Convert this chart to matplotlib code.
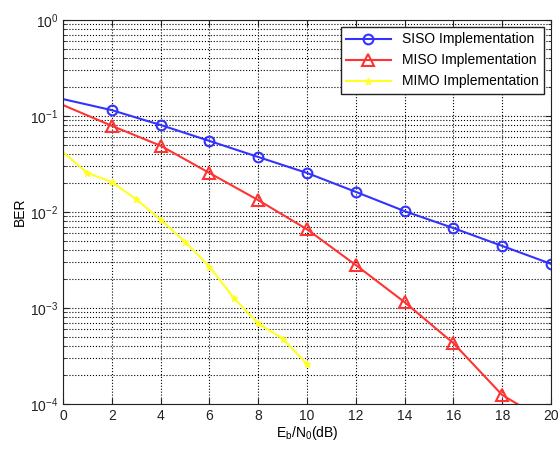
import matplotlib
matplotlib.use("Agg")
import matplotlib.pyplot as plt
from matplotlib.ticker import LogLocator, NullFormatter

plt.rcParams['font.family'] = ['Liberation Sans', 'DejaVu Sans']

snr_siso = [0, 2, 4, 6, 8, 10, 12, 14, 16, 18, 20]
ber_siso = [0.150, 0.115, 0.0806, 0.055, 0.0374, 0.0255, 0.0162, 0.0102, 0.0068, 0.00443, 0.00288]

snr_miso = [0, 2, 4, 6, 8, 10, 12, 14, 16, 18, 20]
ber_miso = [0.130, 0.079, 0.049, 0.0255, 0.0133, 0.0066, 0.0028, 0.00115, 0.00043, 0.000124, 0.000062]

snr_mimo = [0, 1, 2, 3, 4, 5, 6, 7, 8, 9, 10]
ber_mimo = [0.042, 0.0255, 0.0205, 0.0136, 0.0083, 0.0049, 0.0027, 0.00127, 0.00069, 0.00048, 0.00026]

xticks = [0, 2, 4, 6, 8, 10, 12, 14, 16, 18, 20]

fig = plt.figure(figsize=(5.58, 4.49), dpi=100)
ax = fig.add_axes([0.1129, 0.1002, 0.8746, 0.8553])

ax.semilogy(snr_siso, ber_siso, '-o', color='#3333ff', lw=1.5, ms=7, mfc='none', mew=1.5,
            markevery=slice(1, None), label='SISO Implementation')
ax.semilogy(snr_miso, ber_miso, '-^', color='#ff3333', lw=1.5, ms=8, mfc='none', mew=1.5,
            markevery=slice(1, None), label='MISO Implementation')
ax.semilogy(snr_mimo, ber_mimo, '-*', color='#ffff22', lw=1.5, ms=5, mew=1.0,
            markevery=slice(1, None), label='MIMO Implementation')

ax.set_xlim(0, 20)
ax.set_ylim(1e-4, 1)
ax.set_xticks(xticks)
ax.set_xticklabels([str(v) for v in xticks])
ax.yaxis.set_major_locator(LogLocator(base=10, numticks=10))
ax.yaxis.set_minor_locator(LogLocator(base=10, subs=range(2, 10), numticks=50))
ax.yaxis.set_minor_formatter(NullFormatter())

ax.grid(True, which='major', axis='both', color='k', linestyle=':', linewidth=0.8)
ax.grid(True, which='minor', axis='y', color='k', linestyle=':', linewidth=0.8)

ax.tick_params(which='both', direction='in', top=True, right=True, labelsize=10, colors='#222222')
ax.tick_params(which='major', length=4)
ax.tick_params(which='minor', length=2)
for s in ax.spines.values():
    s.set_color('#222222')
    s.set_linewidth(0.8)

ax.set_xlabel('E$_\\mathregular{b}$/N$_\\mathregular{0}$(dB)', fontsize=10, labelpad=1)
ax.set_ylabel('BER', fontsize=10, labelpad=2)

leg = ax.legend(loc='upper right', fontsize=10, fancybox=False, framealpha=1,
                edgecolor='#222222', borderaxespad=0.5, handlelength=3.2)
leg.get_frame().set_linewidth(1.0)
for h in leg.get_lines():
    h.set_markevery([1])

fig.savefig('out.png', dpi=100)
